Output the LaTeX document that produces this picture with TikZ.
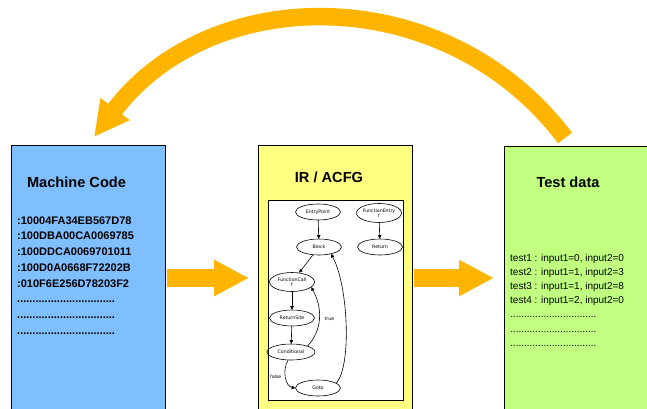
\documentclass[tikz,border=0pt]{standalone}
\usepackage{fontspec}
\setmainfont{Liberation Sans}
\newfontfamily\graphfont{DejaVu Sans}
\usetikzlibrary{shapes.geometric,arrows.meta}

\definecolor{codeblue}{RGB}{128,191,255}
\definecolor{irgold}{RGB}{255,255,128}
\definecolor{testgreen}{RGB}{192,255,128}
\definecolor{flowamber}{RGB}{255,180,0}

\def\codedots{................................}
\def\testdots{...............................}

\tikzset{
  panel/.style={draw=black, line width=1.4pt, anchor=north west, inner sep=0pt, minimum height=280pt},
  flow/.style={draw=flowamber, line width=17.5pt, -{Triangle[length=35pt,width=34pt]}},
  title/.style={font=\fontsize{14.6}{17}\selectfont\bfseries, anchor=base, inner sep=0pt},
  state/.style={ellipse, draw, line width=0.6pt, minimum width=45pt, minimum height=16pt,
    inner xsep=-2pt, inner ysep=0pt, align=center, font=\graphfont\fontsize{4.7}{5.4}\selectfont},
  edge/.style={line width=0.6pt, -{Triangle[length=3.5pt,width=3.5pt]}},
  guard/.style={font=\graphfont\fontsize{4.7}{5.4}\selectfont, inner sep=0pt}
}

\begin{document}
\begin{tikzpicture}[x=1pt,y=-1pt]
	\useasboundingbox (0,0) rectangle (647,408);
	\clip (0,0) rectangle (647,408);
	% the three panels
	\node[panel, fill=codeblue, minimum width=154pt] (code) at (11,145) {};
	\node[panel, fill=irgold, minimum width=154pt] (ir) at (258,145) {};
	\node[panel, fill=testgreen, minimum width=160pt] (test) at (504,146) {};
	\node[title] (codetitle) at (76.5,187) {Machine Code};
	\node[title] (irtitle) at (329,182) {IR / ACFG};
	\node[title] (testtitle) at (568,187) {Test data};
	\foreach \line [count=\i] in {:10004FA34EB567D78, :100DBA00CA0069785, :100DDCA0069701011,
			:100D0A0668F72202B, :010F6E256D78203F2, \codedots, \codedots, \codedots}{
		\node[anchor=base west, inner sep=0pt, font=\fontsize{11}{13}\selectfont\bfseries]
			(code\i) at (17,{224+15.75*(\i-1)}) {\line};
	}
	\foreach \line [count=\i] in {{test1 : input1=0, input2=0}, {test2 : input1=1, input2=3},
			{test3 : input1=1, input2=8}, {test4 : input1=2, input2=0}, \testdots, \testdots, \testdots}{
		\node[anchor=base west, inner sep=0pt, font=\fontsize{10}{12}\selectfont]
			(test\i) at (510,{261+14.2*(\i-1)}) {\line};
	}
	% flow arrows
	\coordinate (tip1) at (249,278);
	\coordinate (tip2) at (494,278);
	\draw[flow, shorten <=1pt] (code.east |- tip1) -- (tip1);
	\draw[flow, shorten <=1pt] (ir.east |- tip2) -- (tip2);
	\coordinate (loopstart) at (565,138);
	\coordinate (looptip) at (94,137);
	\draw[flow] (loopstart) .. controls (447,-19) and (212,-19) .. (looptip);
	% control flow graph
	\node[draw, fill=white, line width=0.8pt, anchor=north west, inner sep=0pt,
		minimum width=135pt, minimum height=200pt] (acfg) at (268,200) {};
	\node[state] (entry) at (318,212) {EntryPoint};
	\node[state, minimum height=19pt] (fentry) at (379,213) {FunctionEntry\\f};
	\node[state] (block) at (319,247) {Block};
	\node[state] (ret) at (380,247) {Return};
	\node[state, minimum height=19pt] (fcall) at (292,282) {FunctionCall\\f};
	\node[state] (rsite) at (292,318) {ReturnSite};
	\node[state, minimum width=48pt] (cond) at (291,352) {Conditional};
	\node[state] (goto) at (318,388) {Goto};
	\draw[edge] (entry) -- (block);
	\draw[edge] (fentry) -- (ret);
	\draw[edge] (block) -- (fcall);
	\draw[edge] (fcall) -- (rsite);
	\draw[edge] (rsite) -- (cond);
	\draw[edge] (cond.20) .. controls +(14,-15) and +(12,22) .. node[guard, right=5pt] {true} (fcall.-15);
	\draw[edge] (cond.250) .. controls +(-6,10) and +(-10,-2) .. node[guard, left=4pt] {false} (goto.west);
	\draw[edge] (goto.15) .. controls (352,365) and (348,285) .. (block.-30);
\end{tikzpicture}
\end{document}
